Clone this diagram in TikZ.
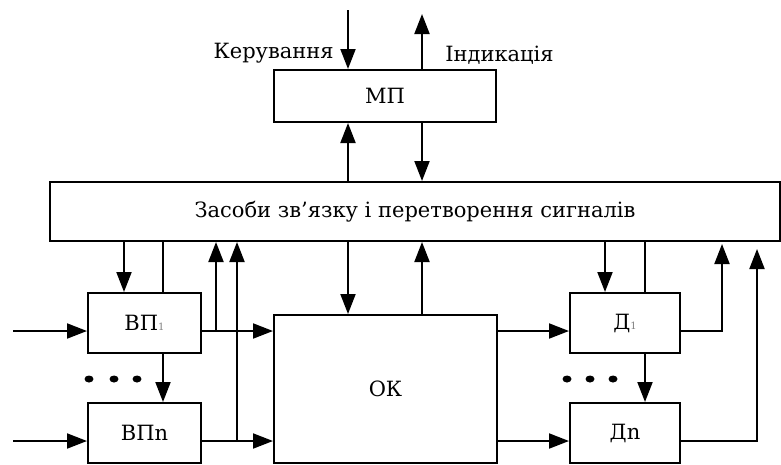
\documentclass[tikz,border=0pt]{standalone}
\usepackage{fontspec}
\setmainfont{DejaVu Serif}
\usepackage{tikz}
\usetikzlibrary{arrows.meta}

\begin{document}
\begin{tikzpicture}[x=1pt,y=-1pt,
                line width=2pt,
                every node/.style={font=\fontsize{21}{24}\selectfont},
                block/.style={draw,line width=2pt,inner sep=0pt,minimum height=60pt},
                arr/.style={-{Triangle[length=20pt,width=15pt]}}
            ]
                \useasboundingbox (0,0) rectangle (781,464);

                % blocks
                \node[block,minimum width=222pt,minimum height=52pt] (mp) at (385,96) {МП};
                \node[block,minimum width=730pt,minimum height=59pt] (bus) at (415,211.5)
                    {Засоби зв’язку і перетворення сигналів};
                \node[block,minimum width=113pt] (vp1) at (144.5,323)
                    {ВП{\color{gray}\fontsize{10}{10}\selectfont 1}};
                \node[block,minimum width=113pt] (vpn) at (144.5,433) {ВПn};
                \node[block,minimum width=223pt,minimum height=148pt] (ok) at (385.5,389) {ОК};
                \node[block,minimum width=110pt] (d1) at (625,323)
                    {Д{\color{gray}\fontsize{10}{10}\selectfont 1}};
                \node[block,minimum width=110pt] (dn) at (625,433) {Дn};

                % free ends
                \coordinate (kin) at (348,10);
                \coordinate (kout) at (422,14);
                \coordinate (in1) at (13,331);
                \coordinate (inn) at (13,441);

                % MP
                \draw[arr] (kin) -- (kin |- mp.north);
                \draw[arr] (mp.north -| kout) -- (kout);
                \node[anchor=east] (kerlab) at (338,53) {Керування};
                \node[anchor=west] (indlab) at (441,55) {Індикація};
                \draw[arr] (bus.north -| kin) -- (mp.south -| kin);
                \draw[arr] (mp.south -| kout) -- (bus.north -| kout);

                % left
                \draw[arr] (in1) -- (in1 -| vp1.west);
                \draw[arr] (inn) -- (inn -| vpn.west);
                \draw[arr] ([xshift=-20.5pt]vp1.north |- bus.south) -- ([xshift=-20.5pt]vp1.north);
                \draw ([xshift=18.5pt]vp1.north) -- ([xshift=18.5pt]vp1.north |- bus.south);
                \draw[arr] ([xshift=18.5pt]vp1.south) -- ([xshift=18.5pt]vpn.north);
                \draw[arr] ([yshift=-8pt]vp1.east) -- ([yshift=-8pt]vp1.east -| ok.west);
                \draw[arr] ([yshift=-8pt]vpn.east) -- ([yshift=-8pt]vpn.east -| ok.west);
                \draw[arr] ([yshift=-8pt,xshift=14pt]vp1.east) -- ([xshift=14pt]vp1.east |- bus.south);
                \draw[arr] ([yshift=-8pt,xshift=35pt]vpn.east) -- ([xshift=35pt]vpn.east |- bus.south);
                \foreach \x in {89,114,137}
                    \fill (\x,379) ellipse (4.5pt and 3.5pt);

                % OK
                \draw[arr] (bus.south -| kin) -- (ok.north -| kin);
                \draw[arr] (ok.north -| kout) -- (bus.south -| kout);

                % right
                \draw[arr] ([yshift=-8pt]d1.west -| ok.east) -- ([yshift=-8pt]d1.west);
                \draw[arr] ([yshift=-8pt]dn.west -| ok.east) -- ([yshift=-8pt]dn.west);
                \draw[arr] ([xshift=-20pt]d1.north |- bus.south) -- ([xshift=-20pt]d1.north);
                \draw ([xshift=20pt]d1.north) -- ([xshift=20pt]d1.north |- bus.south);
                \draw[arr] ([xshift=20pt]d1.south) -- ([xshift=20pt]dn.north);
                \draw[arr,shorten >=2pt] ([yshift=-8pt]d1.east) -| ([xshift=41pt]d1.east |- bus.south);
                \draw[arr,shorten >=7pt] ([yshift=-8pt]dn.east) -| ([xshift=76pt]dn.east |- bus.south);
                \foreach \x in {567,590,613}
                    \fill (\x,379) ellipse (4.5pt and 3.5pt);

            \end{tikzpicture}
\end{document}
